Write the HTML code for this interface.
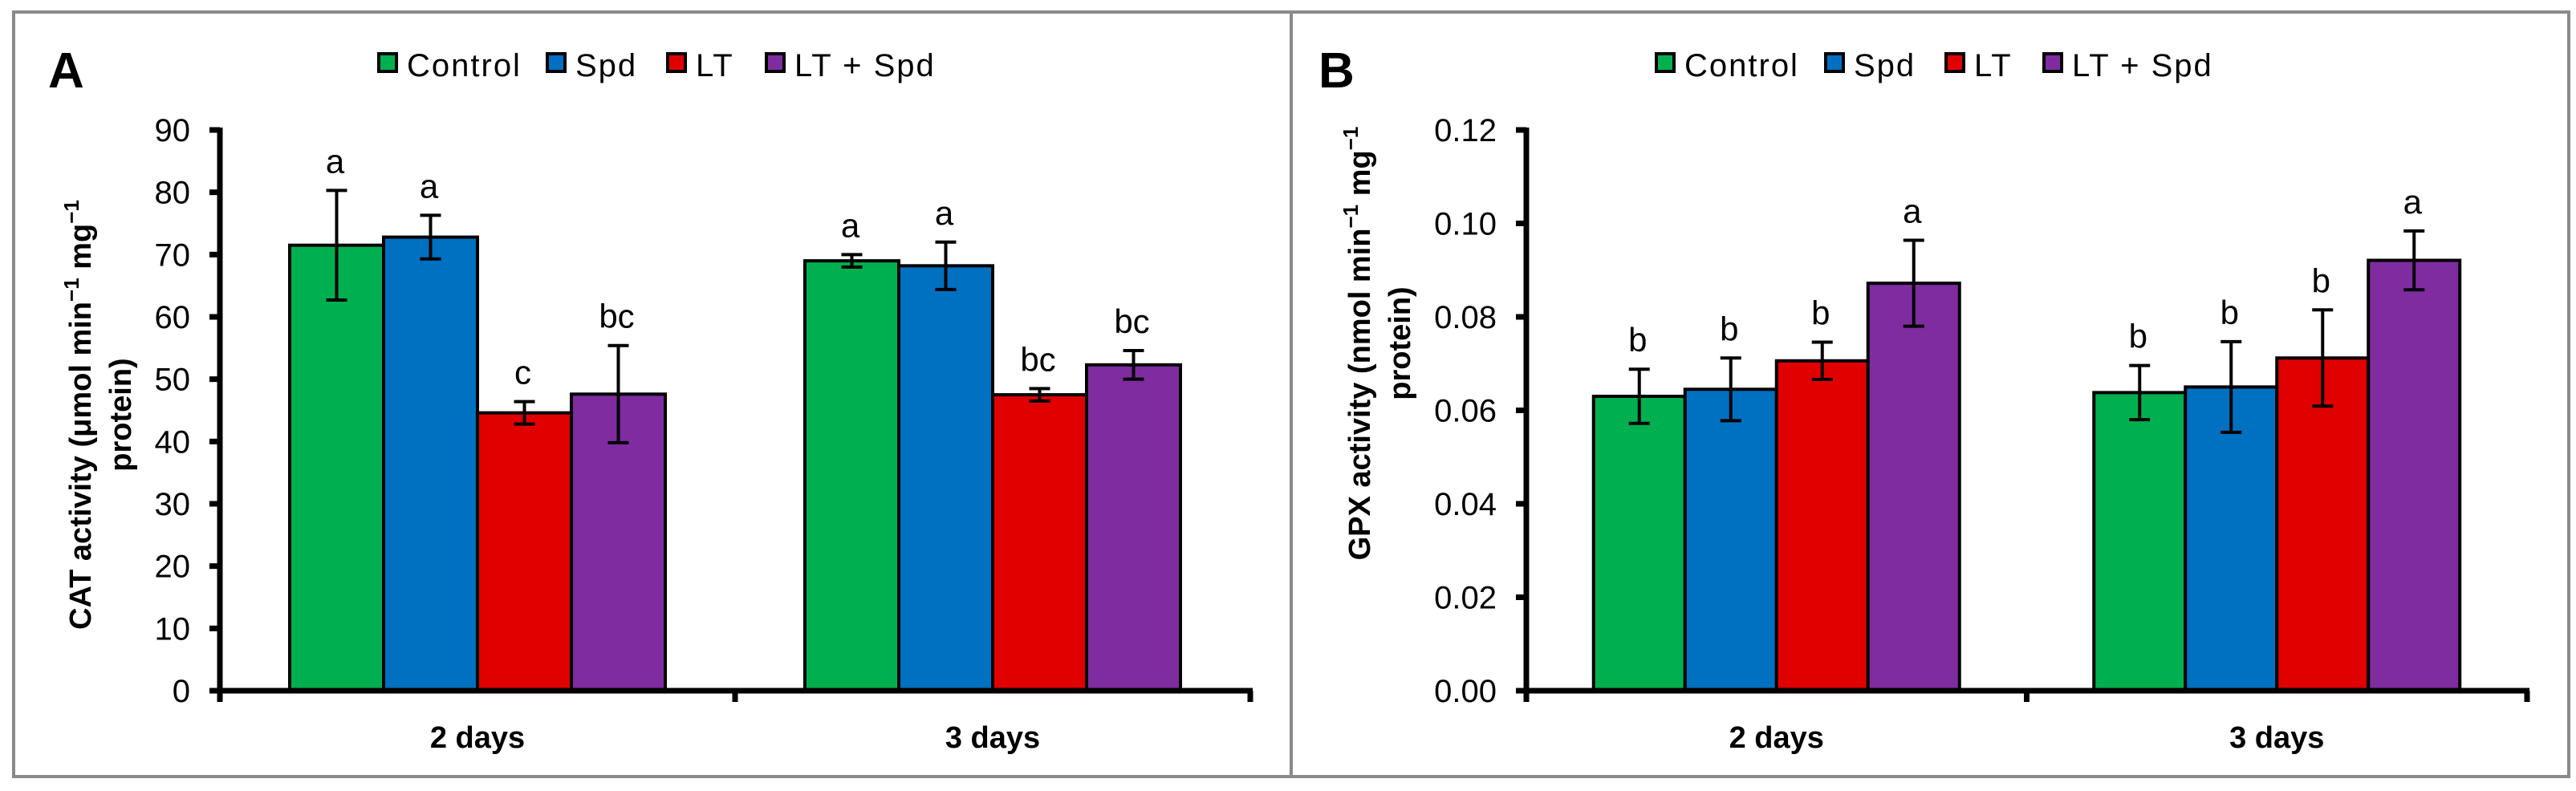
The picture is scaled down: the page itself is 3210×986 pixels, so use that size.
<!DOCTYPE html>
<html><head><meta charset="utf-8"><style>
html,body{margin:0;padding:0;background:#fff;}
svg{display:block;font-family:"Liberation Sans",Arial,sans-serif;}
</style></head><body>
<svg id="chart" width="3210" height="986" viewBox="0 0 3210 986" xmlns="http://www.w3.org/2000/svg">
<rect x="17" y="15" width="3184" height="953" fill="#fff" stroke="#8a8a8a" stroke-width="4"/>
<line x1="1609" y1="15" x2="1609" y2="968" stroke="#8a8a8a" stroke-width="4"/>
<g id="root"></g>
</svg>
<script>
const series = ["Control","Spd","LT","LT + Spd"];
const colors = ["#00B050","#0070C0","#E00000","#7F2CA0"];
const categories = ["2 days","3 days"];
const catValues = [[71.5,72.8,44.6,47.6],[69.0,68.2,47.5,52.3]];
const catErrors = [[8.8,3.5,1.8,7.8],[1.0,3.8,1.0,2.3]];
const catLetters = [["a","a","c","bc"],["a","a","bc","bc"]];
const catTicks = [0,10,20,30,40,50,60,70,80,90];
const gpxValues = [[0.0630,0.0645,0.0706,0.0872],[0.0638,0.0650,0.0712,0.0921]];
const gpxErrors = [[0.0058,0.0067,0.0040,0.0092],[0.0058,0.0097,0.0103,0.0063]];
const gpxLetters = [["b","b","b","a"],["b","b","b","a"]];
const gpxTicks = [0,0.02,0.04,0.06,0.08,0.10,0.12];

const NS="http://www.w3.org/2000/svg";
const root=document.getElementById('root');
function mk(tag,attrs,parent,text){const e=document.createElementNS(NS,tag);for(const k in attrs)e.setAttribute(k,attrs[k]);if(text!==undefined)e.textContent=text;(parent||root).appendChild(e);return e;}

function panel(cfg){
  const g=mk('g',{});
  
  
  const y0=861, yTop=162;
  const y=v=>y0-(v-cfg.min)/(cfg.max-cfg.min)*(y0-yTop);
  const catW=(cfg.x1-cfg.x0)/categories.length;
  const pl=mk('text',{x:cfg.letterX,y:109,'font-size':62,'font-weight':'bold'},g,cfg.letter);
  
  
  series.forEach((s,i)=>{
    const r=mk('rect',{x:cfg.legX[i],y:67,width:22,height:22,fill:colors[i],stroke:'#000','stroke-width':4},g);
    
    
    const t=mk('text',{x:cfg.legX[i]+35,y:95,'font-size':40,'letter-spacing':2},g,s);
    
    
  });
  cfg.ticks.forEach(v=>{
    const ty=y(v);
    const tl=mk('line',{x1:cfg.x0-13,y1:ty,x2:cfg.x0,y2:ty,stroke:'#000','stroke-width':7},g);
    
    
    const tx=mk('text',{x:cfg.x0-37,y:ty+14,'font-size':40,'text-anchor':'end'},g,v.toFixed(cfg.dec));
    
    
  });
  const bw=cfg.bw;
  categories.forEach((c,ci)=>{
    const cx=cfg.x0+catW*(ci+0.5);
    const gx=cx-bw*2;
    cfg.values[ci].forEach((v,si)=>{
      const bx=gx+bw*si, by=y(v);
      const b=mk('rect',{x:bx,y:by,width:bw,height:y0-by,fill:colors[si],stroke:'#000','stroke-width':4},g);
      
      
      const ex=bx+bw/2, e=cfg.errors[ci][si];
      const eT=y(v+e), eB=y(v-e);
      const eb=mk('path',{d:`M${ex},${eT}V${eB}M${ex-13},${eT}H${ex+13}M${ex-13},${eB}H${ex+13}`,stroke:'#000','stroke-width':4,fill:'none'},g);
      
      
      const lt=mk('text',{x:ex-2,y:eT-22,'font-size':42,'text-anchor':'middle'},g,cfg.letters[ci][si]);
      
      
    });
    const cl=mk('text',{x:cx,y:932,'font-size':38,'font-weight':'bold','text-anchor':'middle'},g,c);
    
    
    const ct=mk('line',{x1:cfg.x0+catW*(ci+1),y1:y0,x2:cfg.x0+catW*(ci+1),y2:y0+14,stroke:'#000','stroke-width':7},g);
    
    
  });
  const ya=mk('line',{x1:cfg.x0,y1:yTop-3,x2:cfg.x0,y2:y0+14,stroke:'#000','stroke-width':7},g);
  
  
  const xa=mk('line',{x1:cfg.x0-13,y1:y0,x2:cfg.x1+3,y2:y0,stroke:'#000','stroke-width':7},g);
  
  
  const tt=mk('text',{transform:`translate(${cfg.titleX},${cfg.titleY}) rotate(-90)`,'font-size':38,'font-weight':'bold','text-anchor':'middle'},g);
  
  
  mk('tspan',{x:0,dy:0},tt,cfg.title1+' min');
  mk('tspan',{'baseline-shift':'super','font-size':26},tt,'−1');
  mk('tspan',{},tt,' mg');
  mk('tspan',{'baseline-shift':'super','font-size':26},tt,'−1');
  mk('tspan',{x:0,dy:50},tt,'protein)');
}

panel({name:'cat-activity-panel',letter:'A',letterX:60,legX:[472,682,832,955],x0:274,x1:1558,bw:117,
  min:0,max:90,ticks:catTicks,dec:0,values:catValues,errors:catErrors,letters:catLetters,
  title1:'CAT activity (μmol',titleX:113,titleY:517});
panel({name:'gpx-activity-panel',letter:'B',letterX:1643,legX:[2064,2275,2425,2547],x0:1902,x1:3149,bw:114,
  min:0,max:0.12,ticks:gpxTicks,dec:2,values:gpxValues,errors:gpxErrors,letters:gpxLetters,
  title1:'GPX activity (nmol',titleX:1707,titleY:428});
</script>
</body></html>
